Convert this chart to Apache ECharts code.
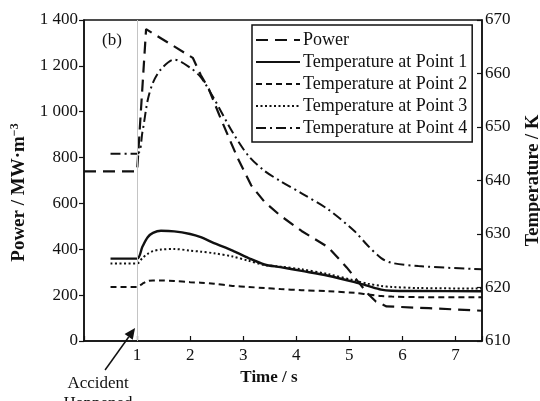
<!DOCTYPE html>
<html>
<head>
<meta charset="utf-8">
<script src="https://cdn.jsdelivr.net/npm/echarts@6/dist/echarts.min.js"></script>
<style>html,body{margin:0;padding:0;background:#fff}#c{width:540px;height:401px}</style>
</head>
<body>
<div id="c"></div>
<script>
// ---- data ----
const seriesNames = ['Power', 'Temperature at Point 1', 'Temperature at Point 2', 'Temperature at Point 3', 'Temperature at Point 4'];
const powerTime  = [0, 1.0, 1.17, 2.05, 2.2, 2.35, 2.55, 2.75, 2.9, 3.15, 3.4, 3.7, 4.1, 4.6, 4.95, 5.35, 5.5, 5.7, 6.5, 7.5];
const powerValue = [740, 740, 1360, 1235, 1160, 1100, 985, 876, 796, 679, 607, 547, 480, 409, 321, 206, 172, 151, 143, 132];
const tempTime = [0.5, 1.0, 1.1, 1.2, 1.3, 1.45, 1.7, 2.0, 2.2, 2.45, 2.8, 3.1, 3.4, 3.7, 4.1, 4.6, 5.1, 5.35, 5.6, 5.8, 6.3, 7.5];
const tempPoint1 = [625.4, 625.4, 627.6, 629.4, 630.2, 630.6, 630.5, 630.0, 629.4, 628.3, 626.9, 625.5, 624.3, 623.8, 623.1, 622.2, 621.0, 620.3, 619.6, 619.4, 619.35, 619.3];
const tempPoint2 = [620.1, 620.1, 620.7, 621.2, 621.3, 621.3, 621.2, 621.0, 620.9, 620.7, 620.3, 620.1, 619.9, 619.7, 619.5, 619.3, 619.0, 618.7, 618.4, 618.3, 618.2, 618.2];
const tempPoint3 = [624.5, 624.5, 625.5, 626.3, 626.8, 627.1, 627.2, 626.9, 626.7, 626.4, 625.8, 625.0, 624.2, 623.9, 623.4, 622.5, 621.3, 620.7, 620.3, 620.1, 619.9, 619.8];
const tempPoint4 = [645.0, 645.0, 649.0, 655.0, 658.3, 660.8, 662.6, 661.1, 659.3, 655.3, 649.0, 644.6, 641.8, 639.9, 637.6, 634.6, 630.5, 627.8, 625.5, 624.6, 624.0, 623.4];
const xTicks = [1, 2, 3, 4, 5, 6, 7];
const accidentTime = 1;

const zip = (a, b) => a.map((v, i) => [v, b[i]]);
const serif = 'Liberation Serif, Times New Roman, serif';
const ink = '#111';

const chart = echarts.init(document.getElementById('c'), null, {renderer: 'canvas'});
const option = {
  backgroundColor: '#fff',
  animation: false,
  title: {text: '(b)', left: 97, top: 27, textStyle: {fontFamily: serif, fontSize: 17, fontWeight: 'normal', color: ink}},
  grid: {left: 84, right: 58, top: 20, bottom: 60, show: true, borderColor: ink, borderWidth: 1.5, outerBoundsMode: 'none'},
  legend: {
    orient: 'vertical', left: 252, top: 25, data: seriesNames,
    itemWidth: 44, itemHeight: 10, itemGap: 4, padding: [6, 5, 5, 3],
    itemStyle: {opacity: 0, borderWidth: 0},
    borderColor: ink, borderWidth: 1.5, backgroundColor: '#fff',
    textStyle: {fontFamily: serif, fontSize: 18, lineHeight: 18, color: ink, padding: [0, 0, 0, -2]}
  },
  xAxis: {
    type: 'value', min: 0, max: 7.5, interval: 1,
    name: 'Time / s', nameLocation: 'middle', nameGap: 26,
    nameTextStyle: {fontFamily: serif, fontSize: 17, fontWeight: 'bold', color: ink, padding: [0, 28, 0, 0]},
    axisLine: {lineStyle: {color: ink, width: 1.5}},
    axisTick: {inside: true, length: 5, lineStyle: {color: ink, width: 1.2}},
    axisLabel: {fontFamily: serif, fontSize: 17, color: ink, margin: 6,
      formatter: v => xTicks.includes(v) ? String(v) : ''},
    splitLine: {show: false}
  },
  yAxis: [{
    type: 'value', min: 0, max: 1400, interval: 200, position: 'left',
    name: '{a|Power / MW·m}{b|−3}', nameLocation: 'middle', nameGap: 54, nameRotate: 90,
    nameTextStyle: {padding: [0, 24, 0, 0], rich: {
      a: {fontFamily: serif, fontSize: 19, fontWeight: 'bold', color: ink},
      b: {fontFamily: serif, fontSize: 12, fontWeight: 'bold', color: ink, verticalAlign: 'top', padding: [0, 0, 9, 0]}
    }},
    axisLine: {show: true, lineStyle: {color: ink, width: 1.5}},
    axisTick: {show: true, inside: false, length: 5, lineStyle: {color: ink, width: 1.2}},
    axisLabel: {fontFamily: serif, fontSize: 17, color: ink, margin: 6,
      formatter: v => v >= 1000 ? Math.floor(v / 1000) + ' ' + String(v % 1000).padStart(3, '0') : String(v)},
    splitLine: {show: false}
  }, {
    type: 'value', min: 610, max: 670, interval: 10, position: 'right',
    name: 'Temperature / K', nameLocation: 'middle', nameGap: 42, nameRotate: 90,
    nameTextStyle: {fontFamily: serif, fontSize: 18.5, fontWeight: 'bold', color: ink},
    axisLine: {show: true, lineStyle: {color: ink, width: 1.5}},
    axisTick: {show: true, inside: true, length: 5, lineStyle: {color: ink, width: 1.2}},
    axisLabel: {fontFamily: serif, fontSize: 17, color: ink, margin: 3},
    splitLine: {show: false}
  }],
  series: [{
    name: seriesNames[0], type: 'line', yAxisIndex: 0, data: zip(powerTime, powerValue),
    symbol: 'none', color: ink, lineStyle: {color: ink, width: 2.2, type: [12, 7]},
    markLine: {silent: true, symbol: 'none', label: {show: false},
      lineStyle: {color: '#c4c4c4', type: 'solid', width: 1}, data: [{xAxis: accidentTime}]},
    z: 3
  }, {
    name: seriesNames[1], type: 'line', yAxisIndex: 1, data: zip(tempTime, tempPoint1),
    symbol: 'none', smooth: 0.3, color: ink, lineStyle: {color: ink, width: 2.4, type: 'solid'}
  }, {
    name: seriesNames[2], type: 'line', yAxisIndex: 1, data: zip(tempTime, tempPoint2),
    symbol: 'none', smooth: 0.3, color: ink, lineStyle: {color: ink, width: 2, type: [6, 4]}
  }, {
    name: seriesNames[3], type: 'line', yAxisIndex: 1, data: zip(tempTime, tempPoint3),
    symbol: 'none', smooth: 0.3, color: ink, lineStyle: {color: ink, width: 2, type: [2, 2.5]}
  }, {
    name: seriesNames[4], type: 'line', yAxisIndex: 1, data: zip(tempTime, tempPoint4),
    symbol: 'none', smooth: 0.3, color: ink, lineStyle: {color: ink, width: 2, type: [10, 4, 2, 4]}
  }]
};
chart.setOption(option);

// annotation arrow "Accident Happened" pointing at the accident time on the time axis
const p = chart.convertToPixel({xAxisIndex: 0, yAxisIndex: 0}, [accidentTime, 0]);
const tip = [p[0] - 2, p[1] - 13];
const tail = [p[0] - 32, p[1] + 29];
const ang = Math.atan2(tip[1] - tail[1], tip[0] - tail[0]);
const L = 11, W = 5;
const bx = tip[0] - L * Math.cos(ang), by = tip[1] - L * Math.sin(ang);
const nx = -Math.sin(ang) * W, ny = Math.cos(ang) * W;
chart.setOption({
  graphic: [
    {type: 'line', shape: {x1: tail[0], y1: tail[1], x2: bx, y2: by}, style: {stroke: ink, lineWidth: 1.5}},
    {type: 'polygon', shape: {points: [tip, [bx + nx, by + ny], [bx - nx, by - ny]]}, style: {fill: ink}},
    {type: 'text', x: p[0] - 39, y: p[1] + 33, style: {text: 'Accident\nHappened', fontFamily: serif, fontSize: 17,
      lineHeight: 20, fill: ink, align: 'center', verticalAlign: 'top'}}
  ]
});
</script>
</body>
</html>
